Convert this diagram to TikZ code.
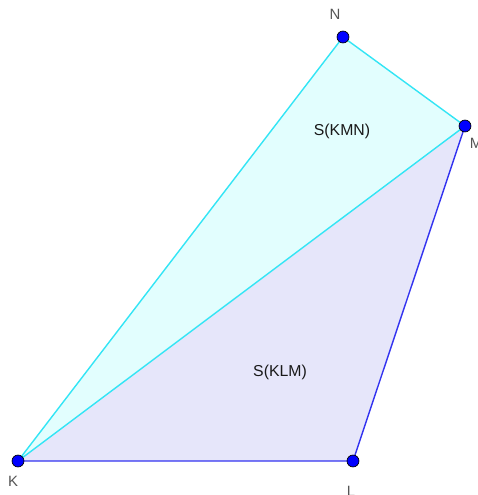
\documentclass[tikz,border=0pt]{standalone}
\usepackage{fontspec}
\setmainfont{Liberation Sans}
\usetikzlibrary{positioning}
\definecolor{ggcyan}{HTML}{33E5F5}
\definecolor{ggblue}{HTML}{3333F0}
\definecolor{cyanfill}{HTML}{E2FEFE}
\definecolor{bluefill}{HTML}{E6E6FA}
\definecolor{labelgray}{HTML}{555555}
\tikzset{
    every node/.style={font=\fontsize{8.5}{10}\selectfont},
    pt/.style={circle,draw=black,fill=blue,minimum size=4.6mm,inner sep=0pt,scale=0.52},
    ptlabel/.style={text=labelgray},
    area/.style={text=black!90,font=\fontsize{9}{11}\selectfont},
    edge/.style={line width=0.8pt}
}
\begin{document}
\begin{tikzpicture}[x=0.02cm,y=-0.02cm]
\useasboundingbox (0,0) rectangle (478,495);
% vertices
\coordinate (K) at (18,461);
\coordinate (L) at (353,461);
\coordinate (M) at (465,126);
\coordinate (N) at (343,37);
% faces
\fill[cyanfill] (K) -- (M) -- (N) -- cycle;
\fill[bluefill] (K) -- (L) -- (M) -- cycle;
\draw[ggblue,edge] (K) -- (L) -- (M);
\draw[ggcyan,edge] (M) -- (N) -- (K) -- (M);
% points
\foreach \p in {K,L,M,N}
    \node[pt] (p\p) at (\p) {};
\node[ptlabel] (lN) at (335,14) {N};
\node[ptlabel] (lM) at (476,143) {M};
\node[ptlabel] (lK) at (13,481) {K};
\node[ptlabel] (lL) at (351,491) {L};
\node[area] (sKMN) at (342,131) {S(KMN)};
\node[area] (sKLM) at (280,372) {S(KLM)};
\end{tikzpicture}
\end{document}
